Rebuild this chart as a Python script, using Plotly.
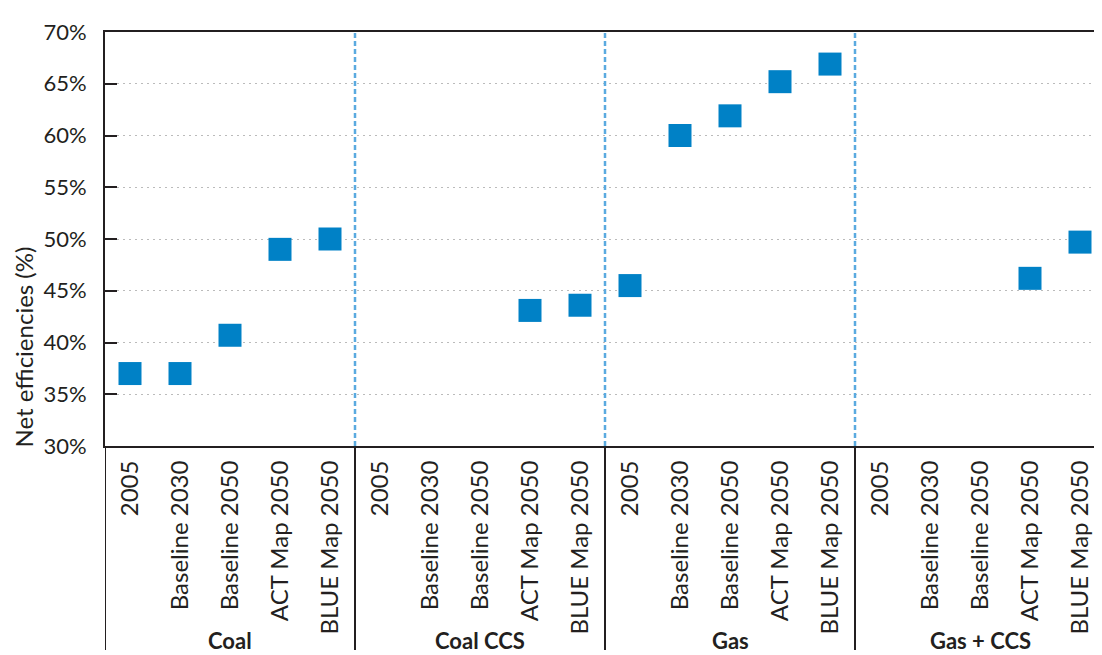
import plotly.graph_objects as go

groups = ["Coal", "Coal CCS", "Gas", "Gas + CCS"]
scenarios = ["2005", "Baseline 2030", "Baseline 2050", "ACT Map 2050", "BLUE Map 2050"]
coal = [37.0, 37.0, 40.7, 49.0, 50.0]
coal_ccs = [None, None, None, 43.1, 43.6]
gas = [45.5, 60.0, 61.9, 65.2, 66.9]
gas_ccs = [None, None, None, 46.2, 49.7]
y_ticks = [30, 35, 40, 45, 50, 55, 60, 65, 70]

series = [coal, coal_ccs, gas, gas_ccs]
n = len(scenarios)

xs, ys = [], []
for gi, vals in enumerate(series):
    for si, v in enumerate(vals):
        if v is not None:
            xs.append(gi * n + si)
            ys.append(v)

tickvals = list(range(len(groups) * n))
ticktext = scenarios * len(groups)

FONT = "Lato"
INK = "#231F20"
fig = go.Figure()
fig.add_trace(go.Scatter(
    x=xs, y=ys, mode="markers",
    marker=dict(symbol="square", size=23, color="#0081C6", line=dict(width=0)),
    showlegend=False, cliponaxis=False,
))

shapes = []
for gi in range(1, len(groups)):
    xb = gi * n - 0.5
    shapes.append(dict(type="line", xref="x", yref="paper", x0=xb, x1=xb, y0=0, y1=1,
                       line=dict(color="#5AAAE0", width=2.5, dash="5px,3px"), layer="above"))
for gi in range(len(groups)):
    xb = gi * n - 0.5
    shapes.append(dict(type="line", xref="x", yref="paper", x0=xb, x1=xb, y0=0, y1=-0.493,
                       line=dict(color=INK, width=2)))

annotations = []
for gi, g in enumerate(groups):
    annotations.append(dict(x=gi * n + (n - 1) / 2, y=-0.4686, xref="x", yref="paper",
                            text="<b>" + g + "</b>", showarrow=False, borderpad=0,
                            font=dict(family=FONT, size=22, color=INK),
                            yanchor="middle"))
annotations.append(dict(x=0, y=0, xref="paper", yref="paper", text="Net efficiencies (%)",
                        textangle=-90, showarrow=False, xanchor="center", yanchor="bottom",
                        xshift=-82, yshift=-3, borderpad=0,
                        font=dict(family=FONT, size=24, color=INK)))

fig.update_layout(
    width=1094, height=647,
    margin=dict(l=97, r=0, t=24, b=209),
    plot_bgcolor="white", paper_bgcolor="white",
    font=dict(family=FONT, color=INK),
    shapes=shapes, annotations=annotations,
    xaxis=dict(
        range=[-0.5, 19.44], tickvals=tickvals, ticktext=ticktext,
        tickangle=-90, tickfont=dict(family=FONT, size=24, color=INK),
        showgrid=False, zeroline=False, showline=True, linecolor=INK,
        linewidth=2, mirror=True, ticks="", ticklabelstandoff=3,
    ),
    yaxis=dict(
        range=[30, 70], tickvals=y_ticks, ticktext=[f"{v}%" for v in y_ticks],
        tickfont=dict(family=FONT, size=22, color=INK),
        showgrid=True, gridcolor="#BBBBBB", griddash="2px,4px", gridwidth=1.2,
        zeroline=False, showline=True, linecolor=INK, linewidth=2,
        ticks="inside", ticklen=12, tickwidth=2, tickcolor=INK,
        ticklabelstandoff=12,
    ),
)

fig.write_html("out.html")
